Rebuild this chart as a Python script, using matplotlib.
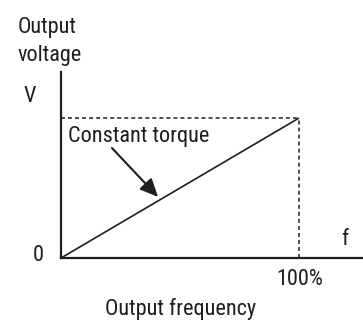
import matplotlib
matplotlib.use("Agg")
import matplotlib.pyplot as plt
from matplotlib import font_manager

# V/f pattern: output voltage rises linearly with frequency (constant torque)
freq_pct = [0, 100]
volt_pct = [0, 100]
x_max, y_max = 126.9, 132.9

names = {f.name for f in font_manager.fontManager.ttflist}
family = "Liberation Sans"
for cand in ("Roboto Condensed", "Liberation Sans Narrow", "Arial Narrow", "Roboto"):
    if cand in names:
        family = cand
        break
plt.rcParams["font.family"] = [family, "DejaVu Sans"]

W, H = 363, 320
INK = "#1e1e1e"
fig = plt.figure(figsize=(W / 100, H / 100), dpi=100)
ax = fig.add_axes([61 / W, 62 / H, (W - 61) / W, (258 - 72) / H])
ax.set_xlim(0, x_max)
ax.set_ylim(0, y_max)
for s in ("top", "right"):
    ax.spines[s].set_visible(False)
for s in ("left", "bottom"):
    ax.spines[s].set_linewidth(1.6)
    ax.spines[s].set_color(INK)
ax.set_xticks([])
ax.set_yticks([])
ax.patch.set_alpha(0)

# characteristic line
ax.plot(freq_pct, volt_pct, color=INK, lw=1.2, solid_capstyle="butt")
# dashed guides to the rated point
ax.plot([0, freq_pct[1]], [volt_pct[1], volt_pct[1]], color=INK, lw=1.1,
        dashes=(2.6, 2.0))
ax.plot([freq_pct[1], freq_pct[1]], [0, volt_pct[1]], color=INK, lw=1.1,
        dashes=(2.6, 2.0))

fs = 16
def ftext(x, y, s, **kw):
    fig.text(x / W, 1 - y / H, s, fontsize=fs, color=INK, va="baseline", **kw)

ftext(18, 33, "Output", ha="left")
ftext(18, 61, "voltage", ha="left")
ftext(30, 102, "V", ha="center")
ftext(38, 261, "0", ha="center")
ftext(345, 245, "f", ha="center")
ftext(300, 285, "100%", ha="center")
ftext(181, 315, "Output frequency", ha="center")
ftext(68, 142, "Constant torque", ha="left")

# pointer arrow to the line
ax.annotate("", xy=(40.8, 43.6), xytext=(21.4, 78.6),
            arrowprops=dict(arrowstyle="-|>,head_length=1.1,head_width=0.5",
                            color=INK, lw=1.5, shrinkA=0, shrinkB=0))

fig.savefig("out.png", dpi=100)
